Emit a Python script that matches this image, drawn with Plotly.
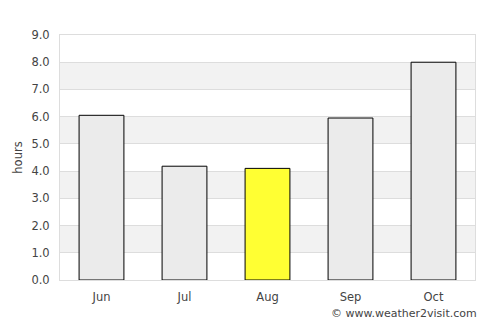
import plotly.graph_objects as go

months = ["Jun", "Jul", "Aug", "Sep", "Oct"]
hours = [6.05, 4.18, 4.1, 5.95, 8.0]
highlight = "Aug"
y_ticks = [0, 1, 2, 3, 4, 5, 6, 7, 8, 9]

colors = ["#ffff33" if m == highlight else "#ebebeb" for m in months]

fig = go.Figure()
fig.add_trace(go.Bar(
    x=months, y=hours, width=0.54,
    marker=dict(color=colors, line=dict(color="#000000", width=1)),
))

shapes = []
for lo in [1, 3, 5, 7]:
    shapes.append(dict(type="rect", xref="paper", yref="y", x0=0, x1=1, y0=lo, y1=lo + 1,
                       fillcolor="#f2f2f2", line=dict(width=0), layer="below"))

fig.update_layout(
    width=500, height=325,
    margin=dict(l=60, r=25, t=35, b=45),
    paper_bgcolor="white", plot_bgcolor="white",
    font=dict(family="DejaVu Sans", size=11.5, color="#444444"),
    showlegend=False,
    shapes=shapes,
    bargap=0.46,
    xaxis=dict(showline=True, linecolor="#dddddd", linewidth=1, mirror=True,
               ticks="", showgrid=False, ticklabelstandoff=6,
               tickfont=dict(family="DejaVu Sans", size=11.5, color="#444444")),
    yaxis=dict(range=[0, 9], tickvals=y_ticks, tickformat=".1f",
               showgrid=True, gridcolor="#dddddd", gridwidth=1,
               showline=True, linecolor="#dddddd", linewidth=1, mirror=True,
               zeroline=False, ticks="", ticklabelstandoff=7,
               tickfont=dict(family="DejaVu Sans", size=11.5, color="#444444"),
               title=dict(text="hours", font=dict(family="DejaVu Sans", size=11.5, color="#444444"),
                          standoff=6)),
    annotations=[dict(text="© www.weather2visit.com", xref="paper", yref="paper",
                      x=1.01, y=-0.135, xanchor="right", yanchor="middle", showarrow=False,
                      font=dict(family="DejaVu Sans", size=11, color="#444444"))],
)

fig.write_html("out.html")
